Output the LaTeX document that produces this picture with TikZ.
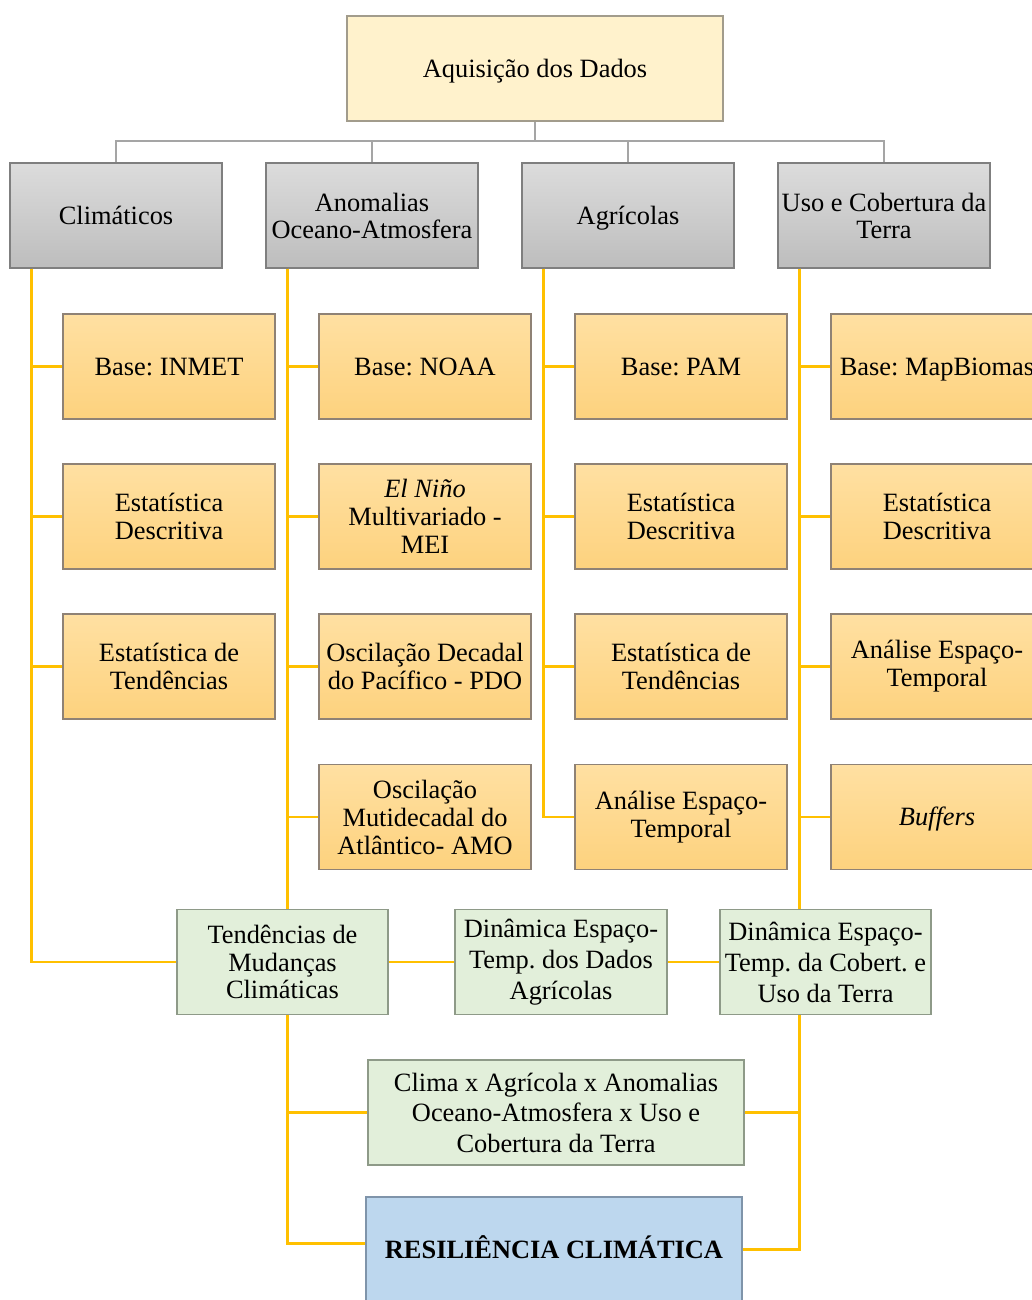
\documentclass[tikz,border=0pt]{standalone}
\usepackage{fontspec}
\setmainfont{Liberation Serif}
\frenchspacing
\definecolor{topfill}{HTML}{FFF2CC}
\definecolor{topdraw}{HTML}{A29C8C}
\definecolor{grtop}{HTML}{DCDCDC}
\definecolor{grbot}{HTML}{BDBDBD}
\definecolor{grdraw}{HTML}{7F7F7F}
\definecolor{ortop}{HTML}{FFE0A2}
\definecolor{orbot}{HTML}{FDD27E}
\definecolor{ordraw}{HTML}{8F8275}
\definecolor{gnfill}{HTML}{E2EFDA}
\definecolor{gndraw}{HTML}{8E9A88}
\definecolor{blfill}{HTML}{BDD7EE}
\definecolor{bldraw}{HTML}{7F94AA}
\definecolor{yline}{HTML}{FFC000}
\definecolor{gline}{HTML}{A5A5A5}
\tikzset{
  basebox/.style={rectangle, minimum width=212pt, minimum height=105pt, inner sep=0pt, align=center, line width=1.3pt, font=\fontsize{26.4}{28}\selectfont\frenchspacing},
  oneline/.style={text height=20pt, text depth=2.6pt},
  topbox/.style={basebox, fill=topfill, draw=topdraw, minimum width=376pt},
  graybox/.style={basebox, top color=grtop, bottom color=grbot, draw=grdraw, font=\fontsize{26.4}{27}\selectfont\frenchspacing},
  orbox/.style={basebox, top color=ortop, bottom color=orbot, draw=ordraw},
  gnbox/.style={basebox, fill=gnfill, draw=gndraw},
  blbox/.style={basebox, fill=blfill, draw=bldraw, minimum width=376pt},
  yconn/.style={draw=yline, line width=2.8pt},
  gconn/.style={draw=gline, line width=2.6pt},
}
\begin{document}
\begin{tikzpicture}[x=1pt,y=-1pt]
\useasboundingbox (0,0) rectangle (1032,1300);
% top
\node[topbox, oneline] (top) at (535,68.5) {Aquisição dos Dados};
% gray
\node[graybox, oneline] (g1) at (116,215.5) {Climáticos};
\node[graybox] (g2) at (372,215.5) {Anomalias\\Oceano-Atmosfera};
\node[graybox, oneline] (g3) at (628,215.5) {Agrícolas};
\node[graybox] (g4) at (884,215.5) {Uso e Cobertura da\\Terra};
% orange col 1
\node[orbox, oneline] (o11) at (169,366.5) {Base: INMET};
\node[orbox] (o12) at (169,516.5) {Estatística\\Descritiva};
\node[orbox] (o13) at (169,666.5) {Estatística de\\Tendências};
% col 2
\node[orbox, oneline] (o21) at (425,366.5) {Base: NOAA};
\node[orbox] (o22) at (425,516.5) {\textit{El Niño}\\Multivariado -\\MEI};
\node[orbox] (o23) at (425,666.5) {Oscilação Decadal\\do Pacífico - PDO};
\node[orbox] (o24) at (425,817) {Oscilação\\Mutidecadal do\\Atlântico- AMO};
% col 3
\node[orbox, oneline] (o31) at (681,366.5) {Base: PAM};
\node[orbox] (o32) at (681,516.5) {Estatística\\Descritiva};
\node[orbox] (o33) at (681,666.5) {Estatística de\\Tendências};
\node[orbox] (o34) at (681,817) {Análise Espaço-\\Temporal};
% col 4
\node[orbox, oneline] (o41) at (937,366.5) {Base: MapBiomas};
\node[orbox] (o42) at (937,516.5) {Estatística\\Descritiva};
\node[orbox] (o43) at (937,666.5) {Análise Espaço-\\Temporal};
\node[orbox, oneline] (o44) at (937,817) {\textit{Buffers}};
% green
\node[gnbox, minimum width=211pt, font=\fontsize{26.4}{27.5}\selectfont\frenchspacing] (tend) at (282.5,962) {Tendências de\\Mudanças\\Climáticas};
\node[gnbox, font=\fontsize{26.4}{31}\selectfont\frenchspacing] (dina) at (561,962) {Dinâmica Espaço-\\Temp. dos Dados\\Agrícolas};
\node[gnbox, minimum width=211pt, font=\fontsize{26.4}{31}\selectfont\frenchspacing] (dinu) at (825.5,962) {Dinâmica Espaço-\\Temp. da Cobert. e\\Uso da Terra};
\node[gnbox, minimum width=376pt, font=\fontsize{26.4}{30.5}\selectfont\frenchspacing] (clima) at (556,1112.5) {Clima x Agrícola x Anomalias\\Oceano-Atmosfera x Uso e\\Cobertura da Terra};
\node[blbox, oneline] (res) at (554,1249.5) {\textbf{RESILIÊNCIA CLIMÁTICA}};
% gray connectors
\coordinate (bus) at (535,141);
\draw[gconn] (top.south) -- (bus);
\draw[gconn] (bus) -| (g1.north);
\draw[gconn] (bus) -| (g2.north);
\draw[gconn] (bus) -| (g3.north);
\draw[gconn] (bus) -| (g4.north);
% yellow column trunks
\coordinate (c1) at ([xshift=22pt]g1.south west);
\coordinate (c2) at ([xshift=22pt]g2.south west);
\coordinate (c3) at ([xshift=22pt]g3.south west);
\coordinate (c4) at ([xshift=22pt]g4.south west);
\foreach \o in {o11,o12,o13} \draw[yconn] (c1) |- (\o.west);
\draw[yconn] (c1) |- (tend.west);
\foreach \o in {o21,o22,o23,o24} \draw[yconn] (c2) |- (\o.west);
\draw[yconn] (c2) -- (c2 |- tend.north);
\foreach \o in {o31,o32,o33,o34} \draw[yconn] (c3) |- (\o.west);
\foreach \o in {o41,o42,o43,o44} \draw[yconn] (c4) |- (\o.west);
\draw[yconn] (c4) -- (c4 |- dinu.north);
\draw[yconn] (tend.east) -- (dina.west);
\draw[yconn] (dina.east) -- (dinu.west);
\coordinate (d2) at (c2 |- tend.south);
\coordinate (d4) at (c4 |- dinu.south);
\draw[yconn] (d2) |- (clima.west);
\draw[yconn] (d2) |- ([yshift=6pt]res.west);
\draw[yconn] (d4) |- (clima.east);
\draw[yconn] (d4) |- (res.east);
\end{tikzpicture}
\end{document}
